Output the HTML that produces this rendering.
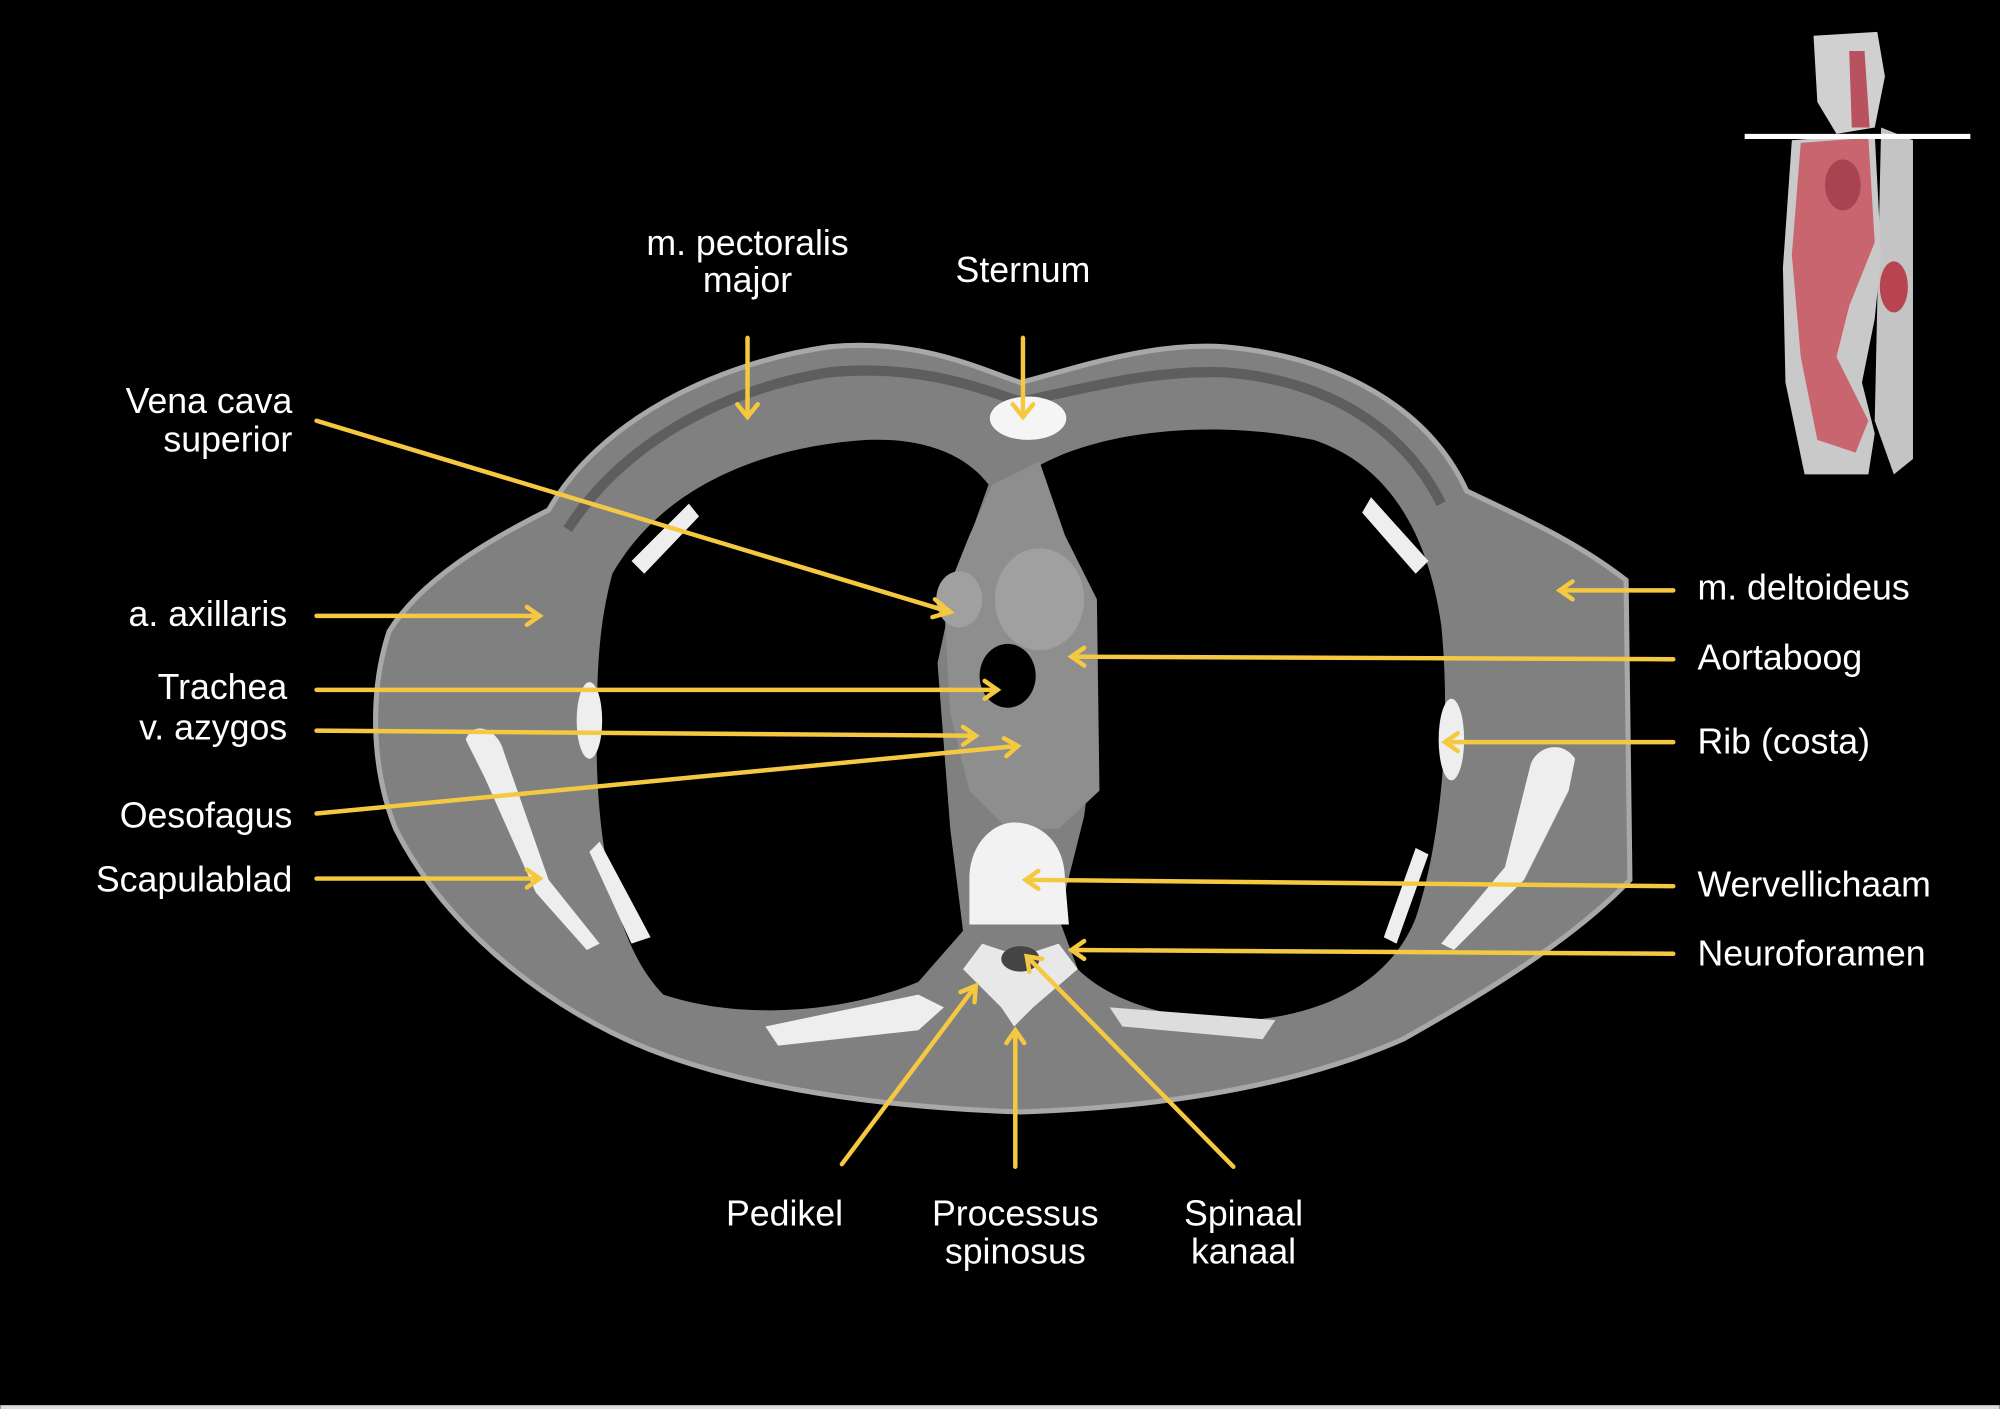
<!DOCTYPE html>
<html><head><meta charset="utf-8"><style>
html,body{margin:0;padding:0;background:#000;}
svg{display:block}
text{font-family:"Liberation Sans",sans-serif;fill:#fff;font-size:28px}
</style></head><body>
<svg width="2000" height="1409" viewBox="0 0 1568 1105" xmlns="http://www.w3.org/2000/svg">
<rect width="1568" height="1105" fill="#000"/>
<rect y="1102" width="1568" height="3" fill="#ddd"/>
<!-- body -->
<path d="M430,400 C470,330 560,285 650,272 C720,265 770,290 800,300 C840,290 900,268 960,272 C1050,280 1120,320 1150,385 C1180,400 1230,420 1275,455 L1278,690 C1240,730 1180,770 1100,815 C1020,850 920,868 800,872 C680,868 560,850 480,810 C400,770 340,710 310,650 C290,600 290,540 305,495 C330,455 380,425 430,400 Z" fill="#808080" stroke="#a8a8a8" stroke-width="4"/>
<path d="M445,415 C490,345 570,305 650,292 C720,285 770,305 800,315 C850,305 900,290 960,292 C1040,298 1100,335 1130,395" fill="none" stroke="#5e5e5e" stroke-width="8"/>
<!-- lungs -->
<path d="M480,450 C520,380 600,350 680,345 C730,343 760,360 775,380 L750,450 L735,520 L745,650 L755,730 L720,770 C660,795 580,800 520,780 C480,740 465,650 468,560 C468,510 472,480 480,450 Z" fill="#000"/>
<path d="M815,365 C870,335 960,330 1030,345 C1090,365 1120,420 1130,490 C1138,570 1130,660 1110,720 C1090,770 1040,795 980,800 C920,802 870,785 845,760 L830,720 L850,640 L860,560 L855,480 L830,420 Z" fill="#000"/>
<!-- mediastinum -->
<path d="M778,380 L815,362 L835,420 L860,470 L862,620 L830,650 L790,650 L760,620 L745,560 L740,470 L760,420 Z" fill="#8e8e8e"/>
<ellipse cx="815" cy="470" rx="35" ry="40" fill="#a0a0a0"/>
<ellipse cx="752" cy="470" rx="18" ry="22" fill="#a0a0a0"/>
<ellipse cx="790" cy="530" rx="22" ry="25" fill="#000"/>
<!-- vertebra -->
<path d="M760,690 C760,660 780,645 795,645 C815,645 835,660 835,690 L838,725 L760,725 Z" fill="#f2f2f2"/>
<path d="M755,760 L770,740 L800,750 L830,740 L845,760 L810,790 L795,805 L785,790 Z" fill="#e8e8e8"/>
<ellipse cx="800" cy="752" rx="15" ry="10" fill="#444"/>
<!-- sternum -->
<ellipse cx="806" cy="328" rx="30" ry="17" fill="#f5f5f5"/>
<!-- ribs -->
<path d="M495,440 L540,395 L548,405 L505,450 Z" fill="#eee"/>
<path d="M1075,390 L1120,440 L1110,450 L1068,402 Z" fill="#eee"/>
<ellipse cx="462" cy="565" rx="10" ry="30" fill="#eee"/>
<ellipse cx="1138" cy="580" rx="10" ry="32" fill="#eee"/>
<path d="M470,660 L510,735 L495,740 L462,668 Z" fill="#eee"/>
<path d="M1120,670 L1095,740 L1085,735 L1110,665 Z" fill="#eee"/>
<path d="M600,805 L720,780 L740,790 L720,808 L610,820 Z" fill="#eee"/>
<path d="M870,790 L1000,800 L990,815 L880,805 Z" fill="#ddd"/>
<!-- scapula -->
<path d="M365,580 C370,565 390,570 395,590 L430,690 L470,740 L460,745 L420,700 L380,610 Z" fill="#eee"/>
<path d="M1235,595 C1225,580 1205,585 1200,600 L1180,680 L1130,740 L1140,745 L1195,690 L1230,620 Z" fill="#eee"/>
<!-- thumbnail -->
<path d="M1422,28 L1472,25 L1478,60 L1470,100 L1440,105 L1425,80 Z" fill="#d0d0d0"/>
<path d="M1450,40 L1462,40 L1466,100 L1452,100 Z" fill="#b8525e"/>
<path d="M1475,100 L1500,110 L1500,360 L1485,372 L1470,330 Z" fill="#c4c4c4"/>
<path d="M1405,110 L1470,105 L1475,200 L1470,250 L1460,300 L1470,340 L1465,372 L1415,372 L1400,300 L1398,210 Z" fill="#c9c9c9"/>
<path d="M1412,112 L1465,108 L1470,190 L1450,240 L1440,280 L1465,330 L1455,355 L1425,345 L1412,280 L1405,200 Z" fill="#c9656f"/>
<ellipse cx="1445" cy="145" rx="14" ry="20" fill="#a84450"/>
<ellipse cx="1485" cy="225" rx="11" ry="20" fill="#b8444f"/>
<line x1="1368" y1="107" x2="1545" y2="107" stroke="#fff" stroke-width="4"/>
<!-- arrows -->
<g stroke="#f5c842" stroke-width="3.5" fill="none" stroke-linecap="round">
<line x1="586" y1="265" x2="586" y2="327"/><path d="M578,317 L586,327 L594,317"/>
<line x1="802" y1="265" x2="802" y2="327"/><path d="M794,317 L802,327 L810,317"/>
<line x1="248" y1="330" x2="745" y2="480"/><path d="M733,470 L745,480 L731,484"/>
<line x1="248" y1="483" x2="423" y2="483"/><path d="M413,476 L423,483 L413,490"/>
<line x1="248" y1="541" x2="782" y2="541"/><path d="M772,534 L782,541 L772,548"/>
<line x1="248" y1="573" x2="765" y2="577"/><path d="M755,570 L765,577 L755,584"/>
<line x1="248" y1="638" x2="798" y2="585"/><path d="M787,579 L798,585 L789,593"/>
<line x1="248" y1="689" x2="423" y2="689"/><path d="M413,682 L423,689 L413,696"/>
<line x1="1312" y1="463" x2="1223" y2="463"/><path d="M1233,456 L1223,463 L1233,470"/>
<line x1="1312" y1="517" x2="840" y2="515"/><path d="M850,508 L840,515 L850,522"/>
<line x1="1312" y1="582" x2="1133" y2="582"/><path d="M1143,575 L1133,582 L1143,589"/>
<line x1="1312" y1="695" x2="804" y2="690"/><path d="M814,683 L804,690 L814,697"/>
<line x1="1312" y1="748" x2="840" y2="745"/><path d="M850,738 L840,745 L850,752"/>
<line x1="660" y1="913" x2="765" y2="773"/><path d="M753,778 L765,773 L764,786"/>
<line x1="796" y1="915" x2="796" y2="808"/><path d="M789,818 L796,808 L803,818"/>
<line x1="967" y1="915" x2="805" y2="750"/><path d="M807,762 L805,750 L817,752"/>
</g>
<!-- labels -->
<text x="586" y="200" text-anchor="middle">m. pectoralis</text>
<text x="586" y="229" text-anchor="middle">major</text>
<text x="802" y="221" text-anchor="middle">Sternum</text>
<text x="229" y="324" text-anchor="end">Vena cava</text>
<text x="229" y="354" text-anchor="end">superior</text>
<text x="225" y="491" text-anchor="end">a. axillaris</text>
<text x="225" y="548" text-anchor="end">Trachea</text>
<text x="225" y="580" text-anchor="end">v. azygos</text>
<text x="229" y="649" text-anchor="end">Oesofagus</text>
<text x="229" y="699" text-anchor="end">Scapulablad</text>
<text x="1331" y="470">m. deltoideus</text>
<text x="1331" y="525">Aortaboog</text>
<text x="1331" y="591">Rib (costa)</text>
<text x="1331" y="703">Wervellichaam</text>
<text x="1331" y="757">Neuroforamen</text>
<text x="615" y="961" text-anchor="middle">Pedikel</text>
<text x="796" y="961" text-anchor="middle">Processus</text>
<text x="796" y="991" text-anchor="middle">spinosus</text>
<text x="975" y="961" text-anchor="middle">Spinaal</text>
<text x="975" y="991" text-anchor="middle">kanaal</text>
</svg>
</body></html>
